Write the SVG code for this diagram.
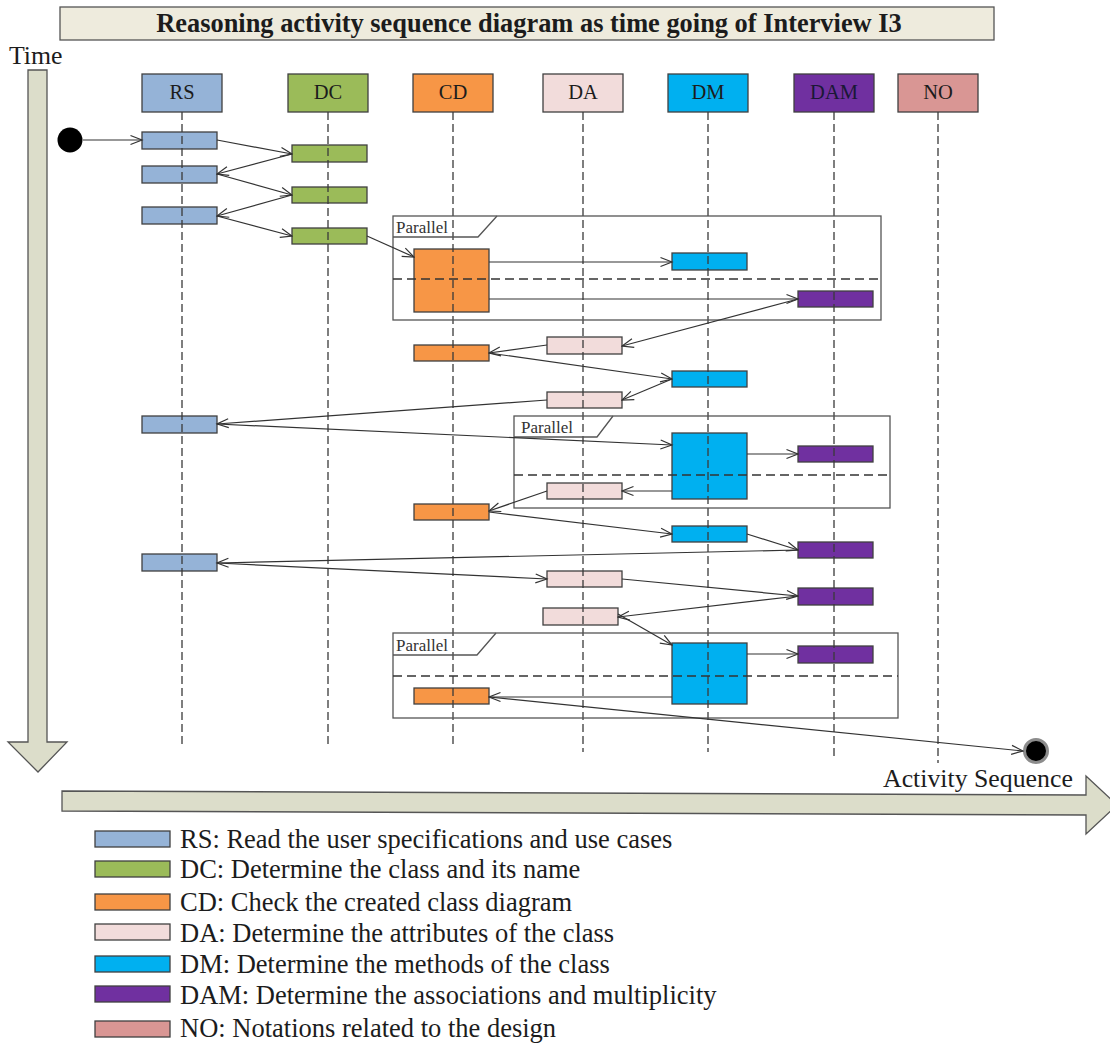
<svg xmlns="http://www.w3.org/2000/svg" width="1110" height="1043" viewBox="0 0 1110 1043">
  <defs>
    <style>
      .serif { font-family: "Liberation Serif", "Times New Roman", serif; fill: #1c1c1c; }
      .title { font-size: 26.4px; font-weight: bold; }
      .head { font-size: 20.5px; text-anchor: middle; }
      .axis { font-size: 25.8px; }
      .legend { font-size: 26.5px; }
      .plabel { font-size: 17px; fill: #333; }
      .box { stroke: #404040; stroke-width: 1.3; }
      .rs { fill: #95B3D7; }
      .dc { fill: #9BBB59; }
      .cd { fill: #F79646; }
      .da { fill: #F2DCDB; }
      .dm { fill: #00B0F0; }
      .dam { fill: #7030A0; }
      .no { fill: #D99694; }
      .life { stroke: #3a3a3a; stroke-width: 1.3; stroke-dasharray: 8 4; fill: none; }
      .frame { fill: none; stroke: #555; stroke-width: 1.3; }
      .divider { stroke: #333; stroke-width: 1.3; stroke-dasharray: 9 5; fill: none; }
      .msg { stroke: #333; stroke-width: 1.2; fill: none; marker-end: url(#open); }
      .bigarrow { fill: #DCDDCA; stroke: #555; stroke-width: 1.3; }
    </style>
    <marker id="open" markerWidth="14" markerHeight="12" refX="12.5" refY="6" orient="auto" markerUnits="userSpaceOnUse">
      <path d="M1,1.5 L12.5,6 L1,10.5" fill="none" stroke="#333" stroke-width="1.2"/>
    </marker>
  </defs>

  <rect width="1110" height="1043" fill="#ffffff"/>

  <!-- title banner -->
  <g id="title">
    <rect x="60" y="7" width="934" height="33" fill="#EEEBDD" stroke="#555" stroke-width="1.3"/>
    <text class="serif title" x="529" y="32" text-anchor="middle">Reasoning activity sequence diagram as time going of Interview I3</text>
  </g>

  <!-- time axis -->
  <g id="time-axis">
    <text class="serif axis" x="9" y="64">Time</text>
    <polygon class="bigarrow" points="28,70 47,70 47,742 67,742 38,772 8,742 28,742"/>
  </g>

  <!-- activity sequence axis -->
  <g id="sequence-axis">
    <polygon class="bigarrow" points="62,791 1086,795 1086,776 1117,805 1086,834 1086,815 62,811"/>
    <text class="serif axis" x="883" y="787">Activity Sequence</text>
  </g>

  <!-- activity bars -->
  <g id="bars-RS">
    <g id="rs-1"><rect class="box rs" x="142" y="132" width="75" height="17"/></g>
    <g id="rs-2"><rect class="box rs" x="142" y="166" width="75" height="17"/></g>
    <g id="rs-3"><rect class="box rs" x="142" y="207" width="75" height="17"/></g>
    <g id="rs-4"><rect class="box rs" x="142" y="416" width="75" height="17"/></g>
    <g id="rs-5"><rect class="box rs" x="142" y="554" width="75" height="17"/></g>
  </g>
  <g id="bars-DC">
    <g id="dc-1"><rect class="box dc" x="292" y="145" width="75" height="17"/></g>
    <g id="dc-2"><rect class="box dc" x="292" y="187" width="75" height="16"/></g>
    <g id="dc-3"><rect class="box dc" x="292" y="228" width="75" height="16"/></g>
  </g>
  <g id="bars-CD">
    <g id="cd-1"><rect class="box cd" x="414" y="249" width="75" height="63"/></g>
    <g id="cd-2"><rect class="box cd" x="414" y="345" width="75" height="16"/></g>
    <g id="cd-3"><rect class="box cd" x="414" y="504" width="75" height="16"/></g>
    <g id="cd-4"><rect class="box cd" x="414" y="688" width="75" height="16"/></g>
  </g>
  <g id="bars-DA">
    <g id="da-1"><rect class="box da" x="547" y="337" width="75" height="17"/></g>
    <g id="da-2"><rect class="box da" x="547" y="392" width="75" height="16"/></g>
    <g id="da-3"><rect class="box da" x="547" y="483" width="75" height="16"/></g>
    <g id="da-4"><rect class="box da" x="547" y="571" width="75" height="16"/></g>
    <g id="da-5"><rect class="box da" x="543" y="608" width="75" height="17"/></g>
  </g>
  <g id="bars-DM">
    <g id="dm-1"><rect class="box dm" x="672" y="253" width="75" height="17"/></g>
    <g id="dm-2"><rect class="box dm" x="672" y="371" width="75" height="16"/></g>
    <g id="dm-3"><rect class="box dm" x="672" y="433" width="75" height="66"/></g>
    <g id="dm-4"><rect class="box dm" x="672" y="526" width="75" height="16"/></g>
    <g id="dm-5"><rect class="box dm" x="672" y="643" width="75" height="61"/></g>
  </g>
  <g id="bars-DAM">
    <g id="dam-1"><rect class="box dam" x="798" y="291" width="75" height="16"/></g>
    <g id="dam-2"><rect class="box dam" x="798" y="446" width="75" height="16"/></g>
    <g id="dam-3"><rect class="box dam" x="798" y="542" width="75" height="16"/></g>
    <g id="dam-4"><rect class="box dam" x="798" y="588" width="75" height="17"/></g>
    <g id="dam-5"><rect class="box dam" x="798" y="646" width="75" height="17"/></g>
  </g>

  <!-- lifelines: header box plus dashed line -->
  <g id="lane-RS">
    <rect class="box rs" x="142" y="74" width="80" height="38"/>
    <text class="serif head" x="182" y="99">RS</text>
    <line class="life" x1="182" y1="112" x2="182" y2="747"/>
  </g>
  <g id="lane-DC">
    <rect class="box dc" x="288" y="74" width="80" height="38"/>
    <text class="serif head" x="328" y="99">DC</text>
    <line class="life" x1="328" y1="112" x2="328" y2="747"/>
  </g>
  <g id="lane-CD">
    <rect class="box cd" x="413" y="74" width="80" height="38"/>
    <text class="serif head" x="453" y="99">CD</text>
    <line class="life" x1="453" y1="112" x2="453" y2="748"/>
  </g>
  <g id="lane-DA">
    <rect class="box da" x="543" y="74" width="80" height="38"/>
    <text class="serif head" x="583" y="99">DA</text>
    <line class="life" x1="583" y1="112" x2="583" y2="752"/>
  </g>
  <g id="lane-DM">
    <rect class="box dm" x="668" y="74" width="80" height="38"/>
    <text class="serif head" x="708" y="99">DM</text>
    <line class="life" x1="708" y1="112" x2="708" y2="752"/>
  </g>
  <g id="lane-DAM">
    <rect class="box dam" x="794" y="74" width="80" height="38"/>
    <text class="serif head" x="834" y="99" style="fill:#1a1836">DAM</text>
    <line class="life" x1="834" y1="112" x2="834" y2="758"/>
  </g>
  <g id="lane-NO">
    <rect class="box no" x="898" y="74" width="80" height="38"/>
    <text class="serif head" x="938" y="99">NO</text>
    <line class="life" x1="938" y1="112" x2="938" y2="763"/>
  </g>

  <!-- parallel fragments -->
  <g id="parallel-1">
    <rect class="frame" x="393" y="216" width="488" height="104"/>
    <path class="frame" d="M393,237 L478,237 L497,216"/>
    <text class="serif plabel" x="396" y="233">Parallel</text>
    <line class="divider" x1="393" y1="279" x2="881" y2="279"/>
  </g>
  <g id="parallel-2">
    <rect class="frame" x="514" y="416" width="376" height="92"/>
    <path class="frame" d="M514,437 L597,437 L613,416"/>
    <text class="serif plabel" x="521" y="433">Parallel</text>
    <line class="divider" x1="514" y1="475" x2="890" y2="475"/>
  </g>
  <g id="parallel-3">
    <rect class="frame" x="393" y="633" width="505" height="85"/>
    <path class="frame" d="M393,655 L477,655 L496,633"/>
    <text class="serif plabel" x="396" y="651">Parallel</text>
    <line class="divider" x1="393" y1="676" x2="898" y2="676"/>
  </g>

  <!-- start and end points -->
  <g id="start"><circle cx="70" cy="140" r="12.5" fill="#000"/></g>
  <g id="end"><circle cx="1036" cy="751" r="11.5" fill="#000" stroke="#8c8c8c" stroke-width="3"/></g>

  <!-- message connectors -->
  <g id="connectors">
    <line class="msg" x1="83" y1="140" x2="142" y2="140"/>
    <line class="msg" x1="217" y1="140" x2="292" y2="154"/>
    <line class="msg" x1="292" y1="154" x2="217" y2="174"/>
    <line class="msg" x1="217" y1="174" x2="292" y2="195"/>
    <line class="msg" x1="292" y1="195" x2="217" y2="216"/>
    <line class="msg" x1="217" y1="216" x2="292" y2="236"/>
    <line class="msg" x1="367" y1="236" x2="414" y2="257"/>
    <line class="msg" x1="489" y1="262" x2="672" y2="262"/>
    <line class="msg" x1="489" y1="299" x2="798" y2="299"/>
    <line class="msg" x1="798" y1="299" x2="622" y2="346"/>
    <line class="msg" x1="547" y1="345" x2="489" y2="353"/>
    <line class="msg" x1="489" y1="353" x2="672" y2="379"/>
    <line class="msg" x1="672" y1="379" x2="622" y2="400"/>
    <line class="msg" x1="547" y1="400" x2="217" y2="424"/>
    <line class="msg" x1="217" y1="424" x2="672" y2="445"/>
    <line class="msg" x1="747" y1="454" x2="798" y2="454"/>
    <line class="msg" x1="672" y1="491" x2="622" y2="491"/>
    <line class="msg" x1="547" y1="491" x2="489" y2="511"/>
    <line class="msg" x1="489" y1="512" x2="672" y2="534"/>
    <line class="msg" x1="747" y1="534" x2="798" y2="550"/>
    <line class="msg" x1="798" y1="550" x2="217" y2="563"/>
    <line class="msg" x1="217" y1="563" x2="547" y2="579"/>
    <line class="msg" x1="622" y1="579" x2="798" y2="596"/>
    <line class="msg" x1="798" y1="596" x2="618" y2="617"/>
    <line class="msg" x1="618" y1="614" x2="672" y2="645"/>
    <line class="msg" x1="747" y1="654" x2="798" y2="654"/>
    <line class="msg" x1="672" y1="697" x2="489" y2="697"/>
    <line class="msg" x1="489" y1="697" x2="1023" y2="751"/>
  </g>

  <!-- legend -->
  <g id="legend">
    <g id="legend-RS">
      <rect class="box rs" x="95" y="831" width="75" height="16"/>
      <text class="serif legend" x="180" y="848">RS: Read the user specifications and use cases</text>
    </g>
    <g id="legend-DC">
      <rect class="box dc" x="95" y="861" width="75" height="16"/>
      <text class="serif legend" x="180" y="878">DC: Determine the class and its name</text>
    </g>
    <g id="legend-CD">
      <rect class="box cd" x="95" y="894" width="75" height="16"/>
      <text class="serif legend" x="180" y="911">CD: Check the created class diagram</text>
    </g>
    <g id="legend-DA">
      <rect class="box da" x="95" y="924" width="75" height="16"/>
      <text class="serif legend" x="180" y="942">DA: Determine the attributes of the class</text>
    </g>
    <g id="legend-DM">
      <rect class="box dm" x="95" y="956" width="75" height="16"/>
      <text class="serif legend" x="180" y="973">DM: Determine the methods of the class</text>
    </g>
    <g id="legend-DAM">
      <rect class="box dam" x="95" y="986" width="75" height="16"/>
      <text class="serif legend" x="180" y="1004">DAM: Determine the associations and multiplicity</text>
    </g>
    <g id="legend-NO">
      <rect class="box no" x="95" y="1021" width="75" height="16"/>
      <text class="serif legend" x="180" y="1037">NO: Notations related to the design</text>
    </g>
  </g>
</svg>
